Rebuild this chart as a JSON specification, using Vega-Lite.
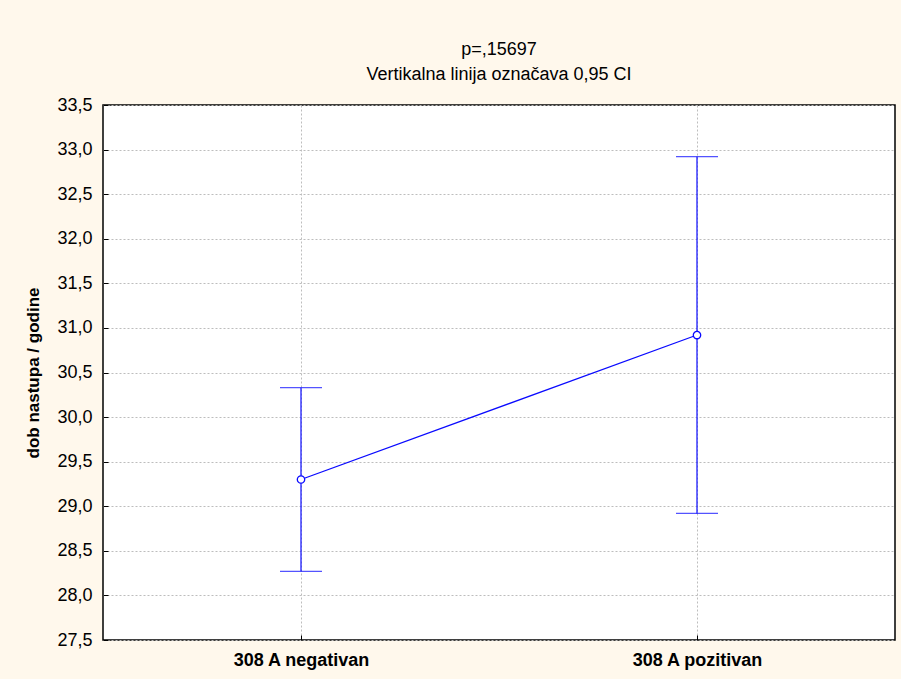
{
  "$schema": "https://vega.github.io/schema/vega-lite/v6.json",
  "autosize": {"type": "none"},
  "width": 792,
  "height": 535,
  "padding": {"left": 103, "top": 105, "right": 6, "bottom": 39},
  "background": "#FFF8EC",
  "config": {
    "font": "Liberation Sans",
    "view": {"fill": "white", "stroke": "black", "strokeWidth": 1.5}
  },
  "title": {
    "text": "p=,15697",
    "subtitle": "Vertikalna linija označava 0,95 CI",
    "anchor": "middle",
    "frame": "group",
    "fontSize": 18,
    "fontWeight": "normal",
    "subtitleFontSize": 18,
    "subtitleColor": "black",
    "subtitlePadding": 7,
    "color": "black",
    "offset": 12
  },
  "data": {
    "values": [
      {"group": "308 A negativan", "mean": 29.30, "lower": 28.27, "upper": 30.33},
      {"group": "308 A pozitivan", "mean": 30.92, "lower": 28.92, "upper": 32.92}
    ]
  },
  "encoding": {
    "x": {
      "field": "group",
      "type": "nominal",
      "sort": null,
      "scale": {"type": "point", "padding": 0.5},
      "axis": {
        "title": null,
        "labelFontSize": 18,
        "labelFontWeight": "bold",
        "labelColor": "black",
        "labelAngle": 0,
        "labelPadding": 16,
        "grid": true,
        "gridColor": "#bdbdbd",
        "gridDash": [2, 2],
        "domain": false,
        "ticks": true,
        "tickSize": -5,
        "tickColor": "black"
      }
    }
  },
  "layer": [
    {
      "mark": {"type": "rule", "color": "#0A0AFF", "strokeWidth": 1.2},
      "encoding": {
        "y": {
          "field": "lower",
          "type": "quantitative",
          "scale": {"domain": [27.5, 33.5], "nice": false, "zero": false},
          "axis": {
            "title": "dob nastupa / godine",
            "titleFontSize": 17,
            "titleFontWeight": "bold",
            "titleColor": "black",
            "titlePadding": 14,
            "values": [27.5, 28, 28.5, 29, 29.5, 30, 30.5, 31, 31.5, 32, 32.5, 33, 33.5],
            "labelExpr": "replace(format(datum.value, '.1f'), '.', ',')",
            "labelFontSize": 18,
            "labelColor": "black",
            "labelPadding": 16,
            "grid": true,
            "gridColor": "#bdbdbd",
            "gridDash": [2, 2],
            "domain": false,
            "ticks": true,
            "tickSize": -5,
            "tickColor": "black"
          }
        },
        "y2": {"field": "upper"}
      }
    },
    {
      "mark": {"type": "tick", "color": "#0A0AFF", "thickness": 1.2, "size": 42, "orient": "horizontal"},
      "encoding": {"y": {"field": "lower", "type": "quantitative"}}
    },
    {
      "mark": {"type": "tick", "color": "#0A0AFF", "thickness": 1.2, "size": 42, "orient": "horizontal"},
      "encoding": {"y": {"field": "upper", "type": "quantitative"}}
    },
    {
      "mark": {"type": "line", "color": "#0A0AFF", "strokeWidth": 1.2},
      "encoding": {"y": {"field": "mean", "type": "quantitative"}}
    },
    {
      "mark": {"type": "point", "shape": "circle", "filled": true, "fill": "white", "stroke": "#0A0AFF", "strokeWidth": 1.3, "size": 55, "opacity": 1},
      "encoding": {"y": {"field": "mean", "type": "quantitative"}}
    }
  ]
}
